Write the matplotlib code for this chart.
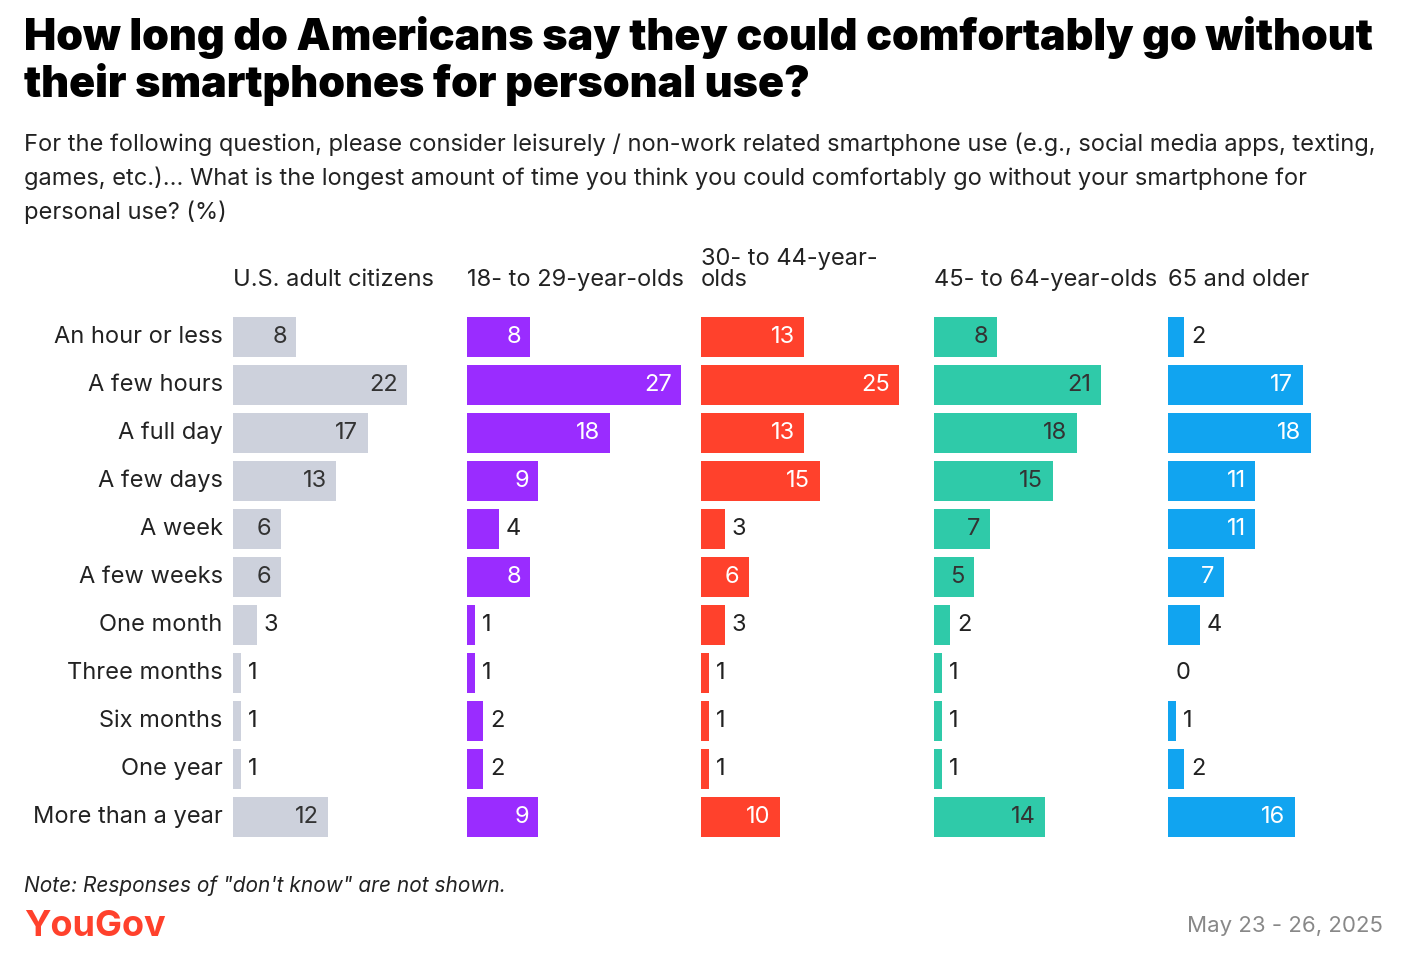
import matplotlib.pyplot as plt

plt.rcParams['font.family'] = ['Inter', 'DejaVu Sans']

categories = ["An hour or less", "A few hours", "A full day", "A few days", "A week",
              "A few weeks", "One month", "Three months", "Six months", "One year",
              "More than a year"]
groups = ["U.S. adult citizens", "18- to 29-year-olds", "30- to 44-year-\nolds",
          "45- to 64-year-olds", "65 and older"]
values = [
    [8, 22, 17, 13, 6, 6, 3, 1, 1, 1, 12],
    [8, 27, 18, 9, 4, 8, 1, 1, 2, 2, 9],
    [13, 25, 13, 15, 3, 6, 3, 1, 1, 1, 10],
    [8, 21, 18, 15, 7, 5, 2, 1, 1, 1, 14],
    [2, 17, 18, 11, 11, 7, 4, 0, 1, 2, 16],
]
colors = ["#cdd1dc", "#9a2cff", "#ff412c", "#2fcaa9", "#11a4f0"]
inside_text = ["#333333", "white", "white", "#333333", "white"]

W, H = 1410, 966
fig = plt.figure(figsize=(W / 100, H / 100), dpi=100)

fig.text(24 / W, 1 - 16 / H, "How long do Americans say they could comfortably go without\ntheir smartphones for personal use?",
         fontsize=31, fontweight='black', va='top', ha='left', linespacing=1.13, color='black')
fig.text(24 / W, 1 - 133 / H,
         "For the following question, please consider leisurely / non-work related smartphone use (e.g., social media apps, texting,\n"
         "games, etc.)... What is the longest amount of time you think you could comfortably go without your smartphone for\n"
         "personal use? (%)", fontsize=17, va='top', ha='left', linespacing=1.55, color='#222222')

px_per_unit = 7.93
panel_w = 225
lefts = [233, 467, 701, 934, 1168]
top, bottom = 313, 841
for i, (g, vals) in enumerate(zip(groups, values)):
    ax = fig.add_axes([lefts[i] / W, 1 - bottom / H, panel_w / W, (bottom - top) / H])
    ax.set_xlim(0, panel_w / px_per_unit)
    ax.set_ylim(len(categories) - 0.5, -0.5)
    ys = list(range(len(categories)))
    ax.barh(ys, vals, height=0.83, color=colors[i])
    for y, v in zip(ys, vals):
        if v >= 5:
            ax.text(v - 1.2, y, str(v), ha='right', va='center', fontsize=17, color=inside_text[i])
        else:
            ax.text(v + 0.9 if v > 0 else 1.0, y, str(v), ha='left', va='center', fontsize=17, color='#222222')
    ax.axis('off')
    if i == 0:
        for y, c in zip(ys, categories):
            ax.text(-1.3, y, c, ha='right', va='center', fontsize=17, color='#222222')
    ax.text(0, -0.95, g, ha='left', va='bottom', fontsize=17, color='#222222', linespacing=0.95)

fig.text(24 / W, 1 - 886 / H, "Note: Responses of \"don't know\" are not shown.", fontsize=15, style='italic',
         va='center', ha='left', color='#222222')
fig.text(24 / W, 1 - 926 / H, "YouGov", fontsize=26, fontweight='bold', va='center', ha='left', color='#ff412c')
fig.text(1383 / W, 1 - 926 / H, "May 23 - 26, 2025", fontsize=16, va='center', ha='right', color='#888888')

fig.savefig("out.png", dpi=100)
